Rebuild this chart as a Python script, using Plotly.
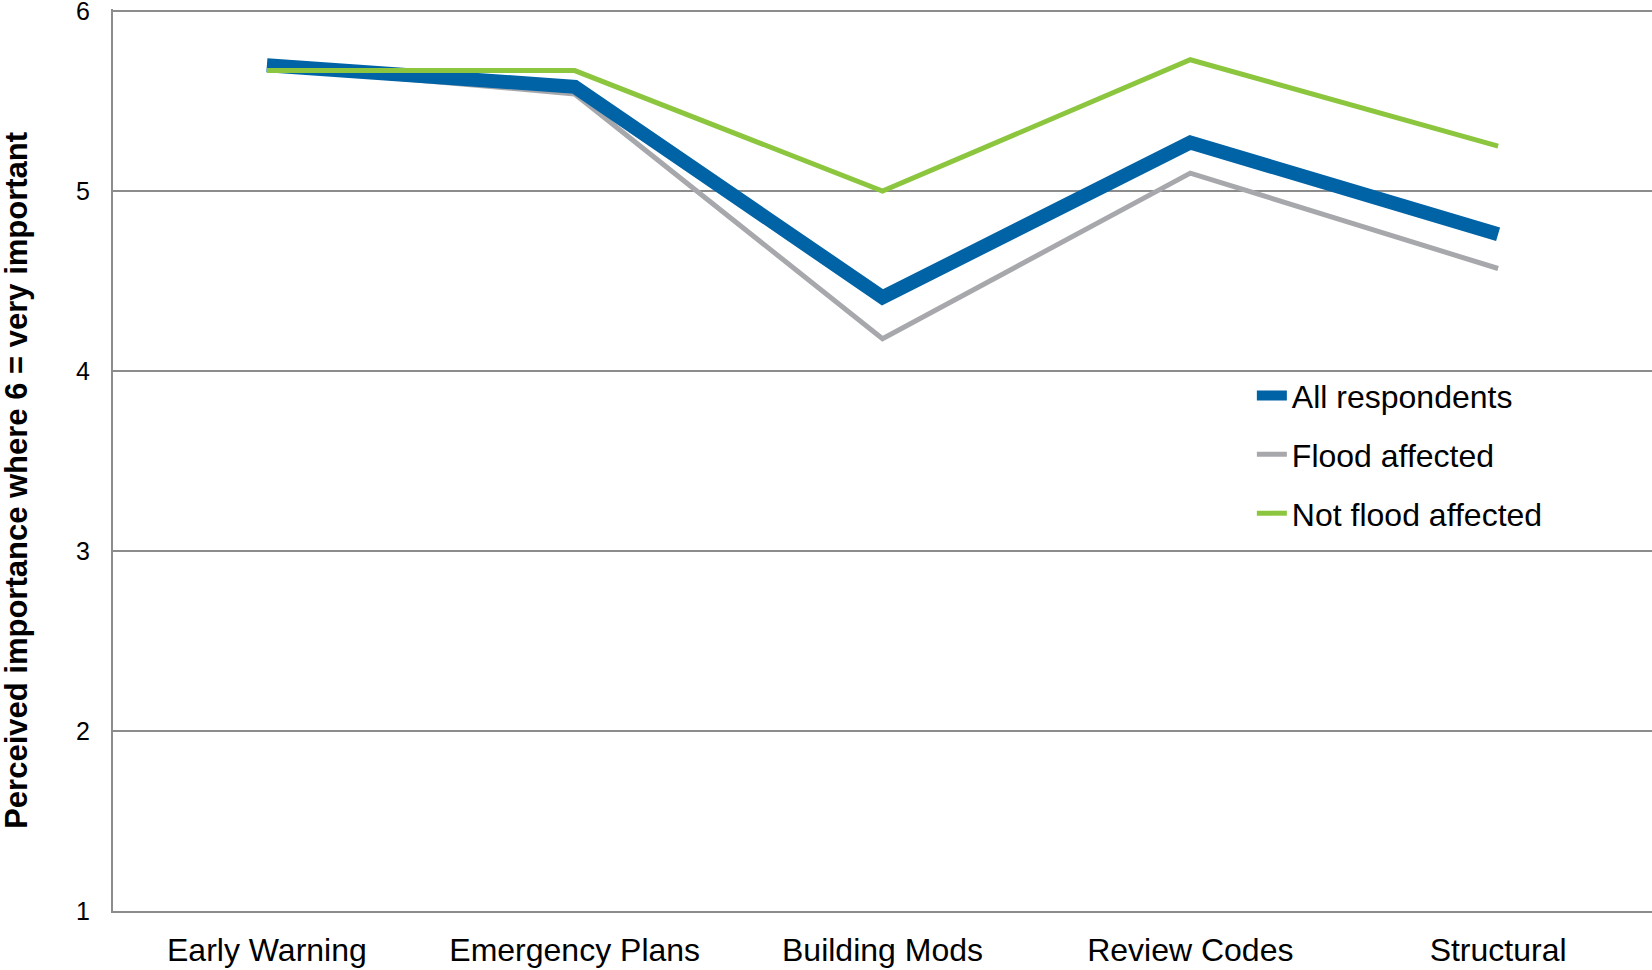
import plotly.graph_objects as go

categories = ["Early Warning", "Emergency Plans", "Building Mods", "Review Codes", "Structural"]
all_respondents = [5.70, 5.58, 4.41, 5.27, 4.76]
flood_affected = [5.69, 5.54, 4.18, 5.10, 4.57]
not_flood_affected = [5.67, 5.67, 5.00, 5.73, 5.25]
y_ticks = [1, 2, 3, 4, 5, 6]

FONT = "Liberation Sans, Arial, sans-serif"

fig = go.Figure()
fig.add_trace(go.Scatter(x=categories, y=flood_affected, mode="lines", name="Flood affected",
                         line=dict(color="#A7A8AC", width=5), legend="legend2"))
fig.add_trace(go.Scatter(x=categories, y=all_respondents, mode="lines", name="All respondents",
                         line=dict(color="#0063A6", width=14), legend="legend"))
fig.add_trace(go.Scatter(x=categories, y=not_flood_affected, mode="lines", name="Not flood affected",
                         line=dict(color="#8CC63F", width=5), legend="legend3"))

leg_common = dict(x=0.740, xanchor="left", yanchor="middle", bgcolor="rgba(0,0,0,0)",
                  font=dict(family=FONT, size=32, color="#000000"))
fig.update_layout(
    width=1652, height=970,
    margin=dict(l=113, r=0, t=9, b=59),
    plot_bgcolor="white", paper_bgcolor="white",
    font=dict(family=FONT, color="#000000"),
    showlegend=True,
    legend=dict(y=0.5714, **leg_common),
    legend2=dict(y=0.5061, **leg_common),
    legend3=dict(y=0.4408, **leg_common),
    xaxis=dict(type="category", range=[-0.5, 4.5], showgrid=False, showline=True, automargin=False,
               linecolor="#8C8C8C", linewidth=2, ticks="", ticklabelstandoff=10,
               ticklabeloverflow="allow",
               tickfont=dict(family=FONT, size=32, color="#000000")),
    yaxis=dict(range=[1, 6.012], tickvals=y_ticks, showgrid=True, gridcolor="#8C8C8C", gridwidth=1.5,
               showline=True, linecolor="#8C8C8C", linewidth=2, ticks="", ticklabelstandoff=16,
               zeroline=False, automargin=False, ticklabeloverflow="allow",
               tickfont=dict(family=FONT, size=25, color="#000000")),
    annotations=[dict(text="<b>Perceived importance where 6 = very important</b>",
                      xref="paper", yref="paper", x=-0.0624, y=0.478, textangle=-90,
                      showarrow=False, xanchor="center", yanchor="middle",
                      font=dict(family=FONT, size=31, color="#000000"))],
)
fig.write_html("out.html", config={"displayModeBar": False},
               post_script="document.body.style.margin='0';document.body.style.padding='0';")
